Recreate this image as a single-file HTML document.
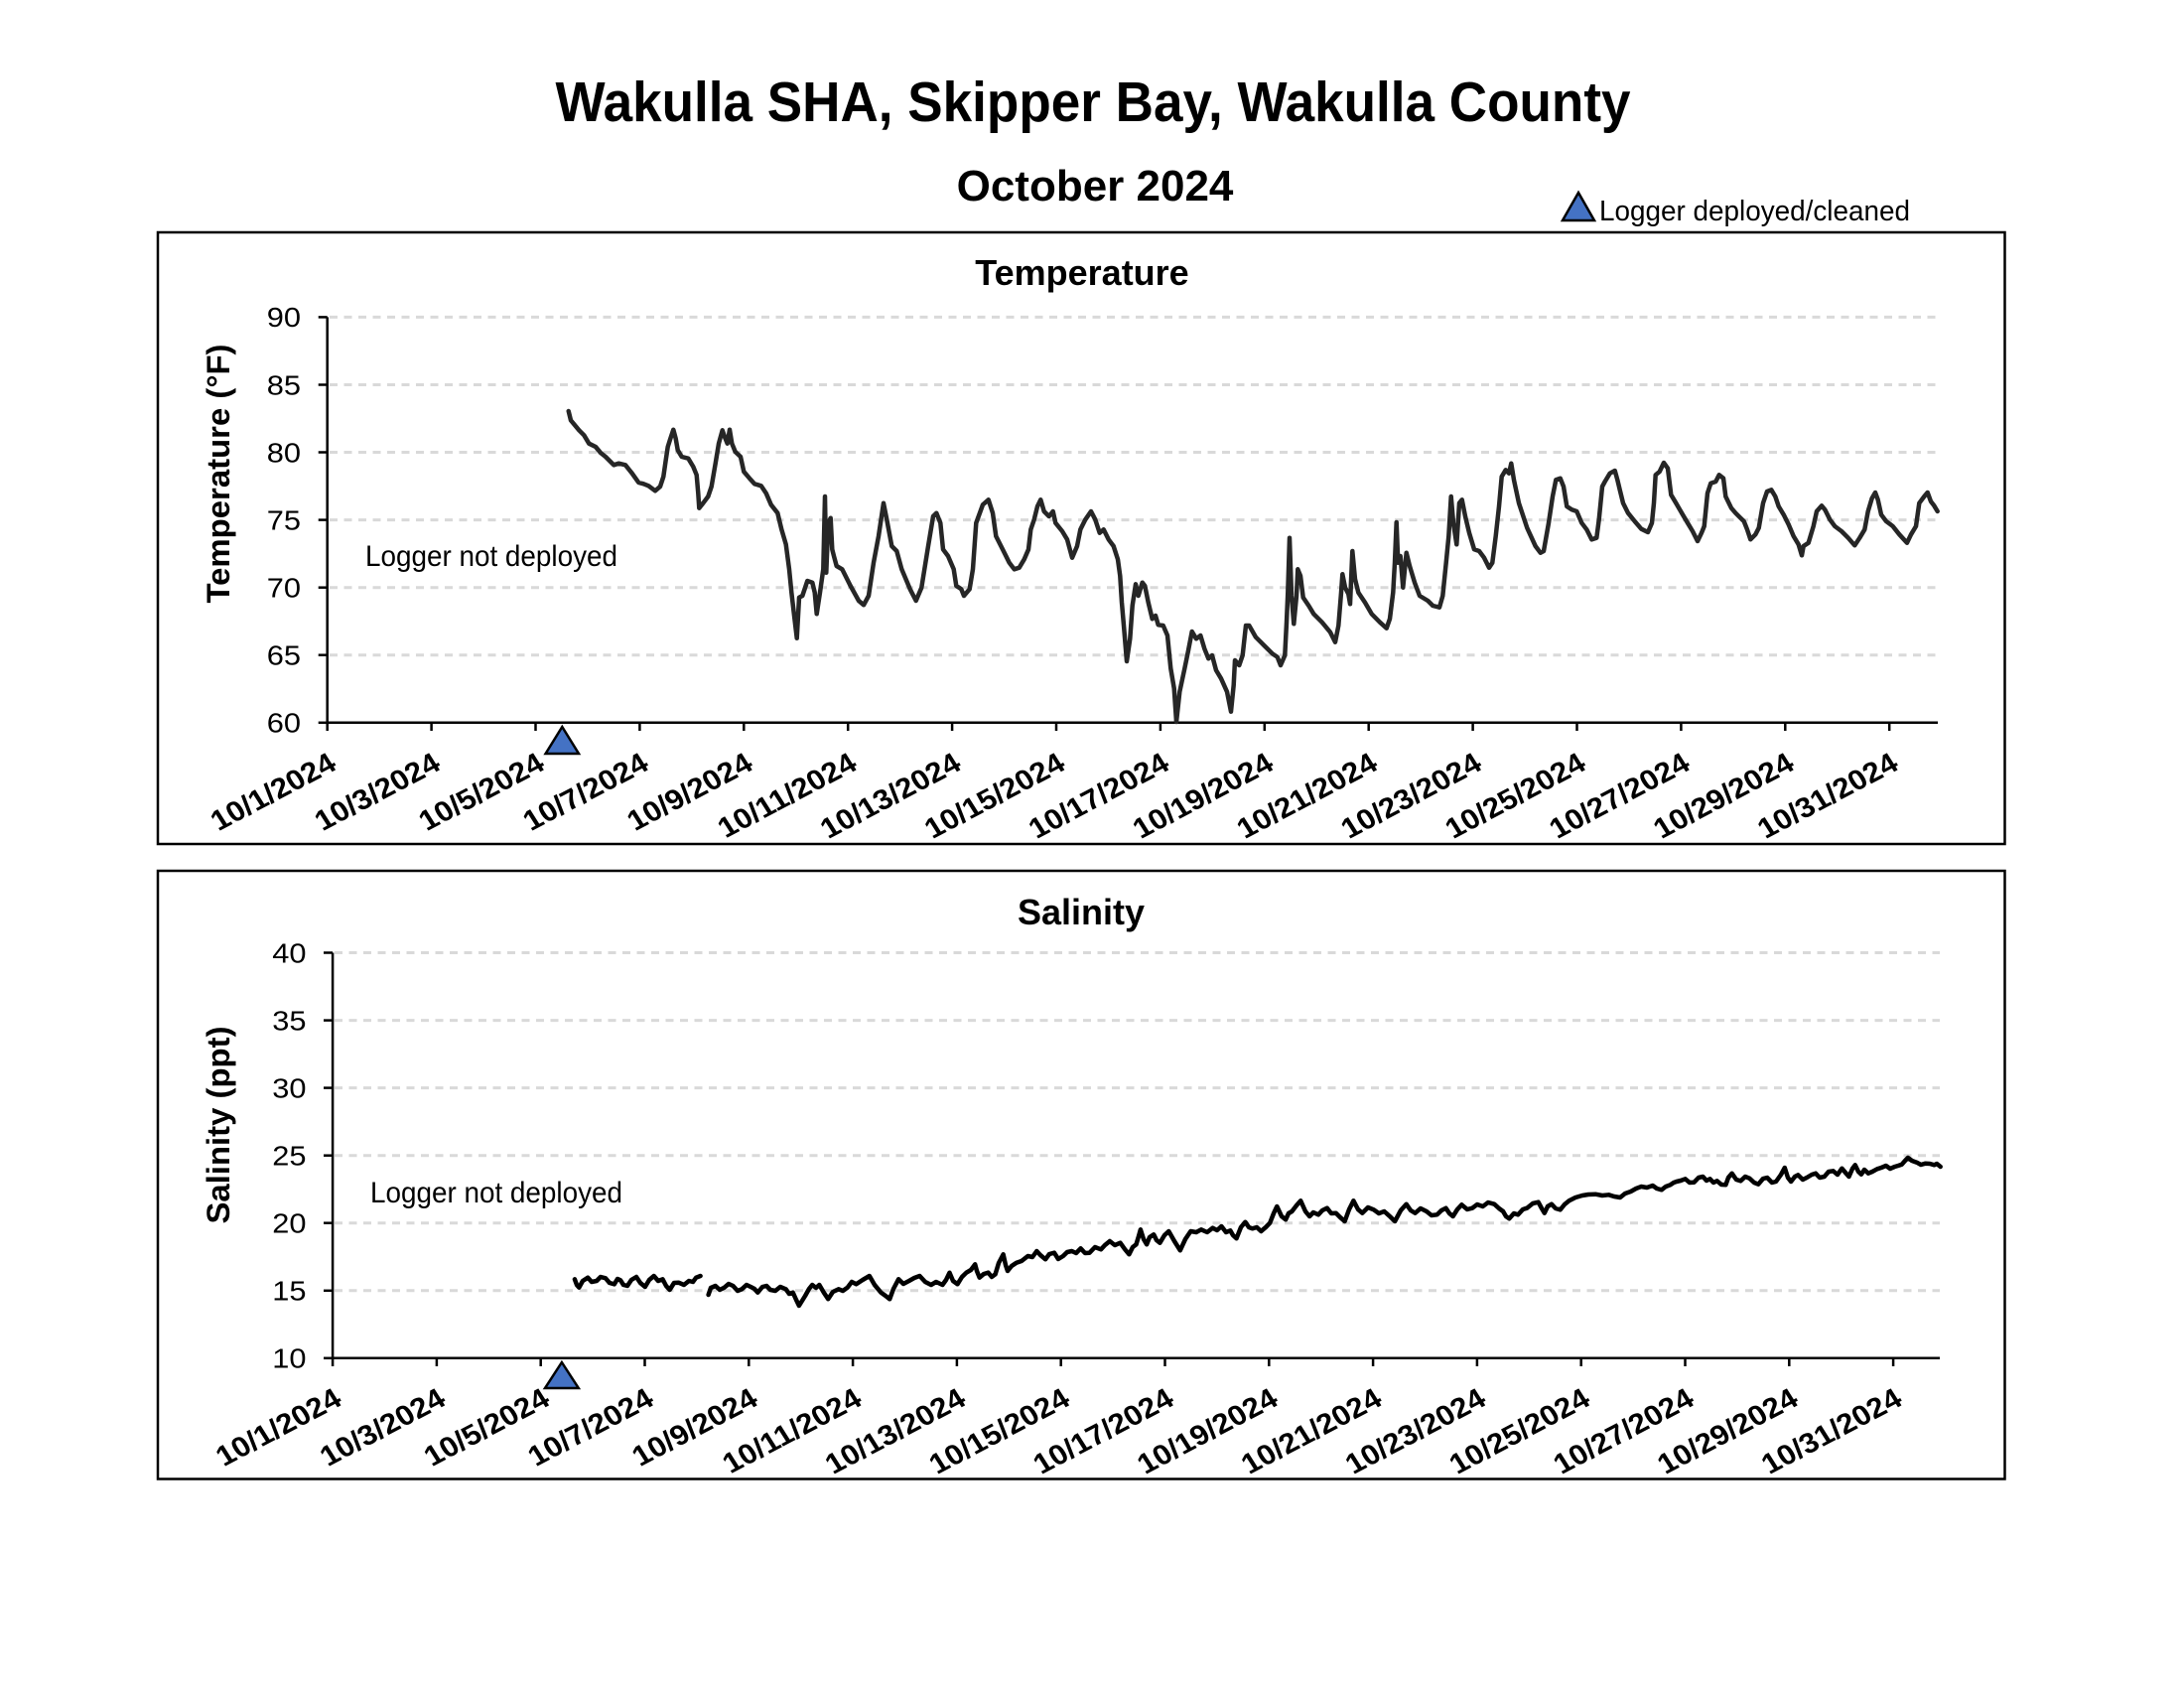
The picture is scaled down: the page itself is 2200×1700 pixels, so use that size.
<!DOCTYPE html>
<html><head><meta charset="utf-8"><style>
html,body{margin:0;padding:0;background:#fff;}
svg{display:block;}
text{font-family:"Liberation Sans",Arial,sans-serif;}
</style></head><body>
<svg width="2200" height="1700" viewBox="0 0 2200 1700" xmlns="http://www.w3.org/2000/svg">
<rect x="0" y="0" width="2200" height="1700" fill="#fff"/>
<!-- Titles -->
<text x="1101" y="122" font-size="57" font-weight="bold" text-anchor="middle" textLength="1083" lengthAdjust="spacingAndGlyphs">Wakulla SHA, Skipper Bay, Wakulla County</text>
<text x="1103" y="202" font-size="44" font-weight="bold" text-anchor="middle">October 2024</text>
<polygon points="1590,194 1606,222 1574,222" fill="#4472C4" stroke="#000" stroke-width="2.5" stroke-linejoin="miter"/>
<text x="1611" y="222" font-size="29" textLength="313" lengthAdjust="spacingAndGlyphs">Logger deployed/cleaned</text>

<!-- ================= TEMPERATURE PANEL ================= -->
<rect x="159" y="234" width="1860.5" height="616" fill="none" stroke="#000" stroke-width="2.5"/>
<text x="1090" y="287" font-size="36" font-weight="bold" text-anchor="middle">Temperature</text>
<text transform="translate(231,477) rotate(-90)" font-size="32" font-weight="bold" text-anchor="middle" textLength="261" lengthAdjust="spacingAndGlyphs">Temperature (°F)</text>
<g stroke="#d9d9d9" stroke-width="3" stroke-dasharray="8,6.5">
<line x1="332" y1="319.4" x2="1952" y2="319.4"/>
<line x1="332" y1="387.5" x2="1952" y2="387.5"/>
<line x1="332" y1="455.5" x2="1952" y2="455.5"/>
<line x1="332" y1="523.6" x2="1952" y2="523.6"/>
<line x1="332" y1="591.7" x2="1952" y2="591.7"/>
<line x1="332" y1="659.7" x2="1952" y2="659.7"/>
</g>
<g stroke="#000" stroke-width="2.5">
<line x1="329.7" y1="319.4" x2="329.7" y2="727.8"/>
<line x1="329.7" y1="727.8" x2="1952" y2="727.8"/>
<line x1="320.7" y1="319.4" x2="329.7" y2="319.4"/>
<line x1="320.7" y1="387.5" x2="329.7" y2="387.5"/>
<line x1="320.7" y1="455.5" x2="329.7" y2="455.5"/>
<line x1="320.7" y1="523.6" x2="329.7" y2="523.6"/>
<line x1="320.7" y1="591.7" x2="329.7" y2="591.7"/>
<line x1="320.7" y1="659.7" x2="329.7" y2="659.7"/>
<line x1="320.7" y1="727.8" x2="329.7" y2="727.8"/>
<line x1="329.7" y1="727.8" x2="329.7" y2="736"/>
<line x1="434.6" y1="727.8" x2="434.6" y2="736"/>
<line x1="539.5" y1="727.8" x2="539.5" y2="736"/>
<line x1="644.4" y1="727.8" x2="644.4" y2="736"/>
<line x1="749.3" y1="727.8" x2="749.3" y2="736"/>
<line x1="854.2" y1="727.8" x2="854.2" y2="736"/>
<line x1="959.1" y1="727.8" x2="959.1" y2="736"/>
<line x1="1064" y1="727.8" x2="1064" y2="736"/>
<line x1="1168.9" y1="727.8" x2="1168.9" y2="736"/>
<line x1="1273.8" y1="727.8" x2="1273.8" y2="736"/>
<line x1="1378.7" y1="727.8" x2="1378.7" y2="736"/>
<line x1="1483.6" y1="727.8" x2="1483.6" y2="736"/>
<line x1="1588.5" y1="727.8" x2="1588.5" y2="736"/>
<line x1="1693.4" y1="727.8" x2="1693.4" y2="736"/>
<line x1="1798.3" y1="727.8" x2="1798.3" y2="736"/>
<line x1="1903.2" y1="727.8" x2="1903.2" y2="736"/>
</g>
<g font-size="27.5" text-anchor="end">
<text transform="translate(303,329.2) scale(1.12,1)">90</text>
<text transform="translate(303,397.3) scale(1.12,1)">85</text>
<text transform="translate(303,465.3) scale(1.12,1)">80</text>
<text transform="translate(303,533.4) scale(1.12,1)">75</text>
<text transform="translate(303,601.5) scale(1.12,1)">70</text>
<text transform="translate(303,669.5) scale(1.12,1)">65</text>
<text transform="translate(303,737.6) scale(1.12,1)">60</text>
</g>
<g font-size="28.5" font-weight="bold" text-anchor="end">
<text transform="translate(340.7,774) scale(1.1,1) rotate(-30)">10/1/2024</text>
<text transform="translate(445.6,774) scale(1.1,1) rotate(-30)">10/3/2024</text>
<text transform="translate(550.5,774) scale(1.1,1) rotate(-30)">10/5/2024</text>
<text transform="translate(655.4,774) scale(1.1,1) rotate(-30)">10/7/2024</text>
<text transform="translate(760.3,774) scale(1.1,1) rotate(-30)">10/9/2024</text>
<text transform="translate(865.2,774) scale(1.1,1) rotate(-30)">10/11/2024</text>
<text transform="translate(970.1,774) scale(1.1,1) rotate(-30)">10/13/2024</text>
<text transform="translate(1075,774) scale(1.1,1) rotate(-30)">10/15/2024</text>
<text transform="translate(1179.9,774) scale(1.1,1) rotate(-30)">10/17/2024</text>
<text transform="translate(1284.8,774) scale(1.1,1) rotate(-30)">10/19/2024</text>
<text transform="translate(1389.7,774) scale(1.1,1) rotate(-30)">10/21/2024</text>
<text transform="translate(1494.6,774) scale(1.1,1) rotate(-30)">10/23/2024</text>
<text transform="translate(1599.5,774) scale(1.1,1) rotate(-30)">10/25/2024</text>
<text transform="translate(1704.4,774) scale(1.1,1) rotate(-30)">10/27/2024</text>
<text transform="translate(1809.3,774) scale(1.1,1) rotate(-30)">10/29/2024</text>
<text transform="translate(1914.2,774) scale(1.1,1) rotate(-30)">10/31/2024</text>
</g>
<text x="368" y="570" font-size="30" textLength="254" lengthAdjust="spacingAndGlyphs">Logger not deployed</text>
<polyline fill="none" stroke="#262626" stroke-width="4.5" stroke-linejoin="round" stroke-linecap="round" points="572.7,414 575,423.3 583.3,433.3 588.3,438.3 593.3,446.7 600,450 605,456 610,460 615,465 618.3,468.3 623.3,466.7 630,468.3 636.7,476.7 643.3,486 648.3,487.3 653.3,489.3 660,494.3 665,490 668.3,480 670.7,463.3 672.7,450 675,442.7 678.3,432.7 680.7,441.7 682.7,453.3 686.7,460 693.3,461.7 698.3,470 701.7,478.3 703.3,496.7 704.3,511.7 708.3,506.7 713.3,500 716.7,490 720.7,466.7 724,446.7 727.7,433.3 730,440 732.7,446.7 735,432.7 737.3,446.7 740.7,455 746,460 749.3,475 755,481.7 760,487.3 766.7,489.3 771.7,496.7 776.7,508.3 783.3,516.7 787.3,533.3 791.7,548.3 795,573.3 797.3,596.7 800,620 802.7,642.7 805,601.7 808.3,600 813.3,585 818.3,586.7 820.7,596.7 822.7,618.3 826,596.7 829.3,573.3 831,500 832.3,576.7 834.3,526.7 836.7,521.7 838.3,553.3 840,560 842.7,570 848.3,573.3 856.7,590 865,605 870,609.3 875,600 880,566.7 885,540 890,506.7 893.3,523.3 898.3,550 903.3,555 908.3,573.3 916.7,593.3 922.7,605 928.3,591.7 935,550 940,520 943.3,516.7 947.3,526.7 950,553.3 955,560 960.7,573.3 963.3,590 968.3,593.3 971,600 976.7,593.3 980,573.3 983.3,526.7 990,508.3 995.7,503.3 1000,516.7 1003.3,540 1010,553.3 1016.7,566.7 1021.7,573.3 1026.7,571.7 1031.7,563.3 1036,553.3 1038.3,533.3 1041.7,523.3 1045,510 1048.3,503.3 1051.7,515 1056.7,520 1060.7,515 1063.3,526.7 1070,535 1075,543.3 1080,561.7 1085,550 1088.3,533.3 1093.3,523.3 1099,515 1103.3,523.3 1107.7,536.7 1111.7,533.3 1116.7,543.3 1121.7,550 1126,563.3 1128.3,580 1130,606.7 1132.3,633.3 1135,666 1138.3,643.3 1140.7,610 1144,588.3 1146.7,600 1150.7,586.7 1153.3,590 1156.7,606.7 1160.7,623.3 1164,620 1166.7,629.3 1171.7,630 1176,640 1179.3,673.3 1182.7,693.3 1185,727 1188.3,696.7 1193.3,673.3 1196.7,656.7 1200.7,636 1205,643.3 1209.3,640 1213.3,653.3 1217.3,663.3 1221,660 1225,675 1230,683.3 1236,696.7 1240,716.7 1242.7,690 1244,665 1248.3,670 1251.7,660 1255,630 1258.3,630 1265,641.7 1273.3,650 1281.7,658.3 1286.7,661.7 1290,670 1294.3,660 1296,626.7 1297.3,596.7 1299,541.7 1301,600 1303.3,628.3 1306,600 1307.3,573.3 1310,580 1312.7,601.7 1318.3,610 1323.3,618.3 1331.7,626.7 1340,636.7 1345,646.7 1348.3,630 1351,596.7 1352.3,578.3 1355,591.7 1358.3,598.3 1360,608.3 1362.3,555 1365,583.3 1368.3,596.7 1375,606.7 1381.7,618.3 1390,626.7 1396.7,632.7 1400,623.3 1403.3,596.7 1405,566.7 1406.7,526 1408.3,566.7 1410.7,560 1413.3,591.7 1416.7,556.7 1420,570 1425,586.7 1430,600 1438.3,605 1443.3,610 1450,611.7 1453.3,600 1456.7,566.7 1459.3,540 1461.7,500 1464,526.7 1467.3,548.3 1470,506.7 1472.7,503.3 1476,520 1480,536.7 1485,553.3 1490,555 1495,561.7 1500,571.7 1503.3,566.7 1506.7,540 1510,510 1512.7,480 1516.7,473.3 1520,476.7 1522.3,466.7 1525,483.3 1530,506.7 1538.3,531.7 1546.7,550 1551.7,556.7 1555,555 1560,526.7 1564,500 1567.3,483.3 1571.7,481.7 1575,490 1578.3,510 1583.3,513.3 1588.3,515 1593.3,526.7 1598.3,533.3 1603.3,543.3 1608.3,541.7 1610.7,523.3 1614,490 1616.7,485 1621.7,476.7 1626.7,474 1629.3,483.3 1631.7,493.3 1635,506.7 1640,516.7 1646.7,525 1653.3,532.7 1660,536 1664,526.7 1666,506.7 1667.7,478.3 1671.7,475 1676,466 1680,471.7 1683.3,498.3 1688.3,506.7 1695,518.3 1700,526.7 1705,535 1710,545 1714,536.7 1716.7,530 1720,496.7 1723.3,486.7 1728.3,485 1731.7,478.3 1736,481.7 1738.3,500 1744,511.7 1748.3,516.7 1753.3,521.7 1756.7,525 1760,533.3 1763.3,543.3 1768.3,538.3 1771.7,531.7 1776,506.7 1780,495 1784.3,493.3 1788.3,500 1791.7,510 1796.7,518.3 1801.7,528.3 1806.7,540 1811.7,548.3 1815,559.3 1816.7,550 1821.7,546.7 1826.7,530 1830,515 1835,509.3 1838.3,513.3 1843.3,523.3 1848.3,530 1855,535 1861.7,541.7 1868.3,549.3 1873.3,541.7 1878.3,533.3 1881.7,515 1885.7,501.7 1889,496 1891.7,503.3 1895,518.3 1900,525 1906.7,530 1913.3,538.3 1921,546.7 1925,538.3 1930,530 1933.3,506.7 1938.3,500 1941.7,496 1945,505 1948.3,509.3 1951.7,515"/>
<polygon points="566.3,732 583,759 549.6,759" fill="#4472C4" stroke="#000" stroke-width="2.5"/>

<!-- ================= SALINITY PANEL ================= -->
<rect x="159" y="877" width="1860.5" height="612.5" fill="none" stroke="#000" stroke-width="2.5"/>
<text x="1089" y="931" font-size="36" font-weight="bold" text-anchor="middle">Salinity</text>
<text transform="translate(231,1133) rotate(-90)" font-size="32" font-weight="bold" text-anchor="middle" textLength="199" lengthAdjust="spacingAndGlyphs">Salinity (ppt)</text>
<g stroke="#d9d9d9" stroke-width="3" stroke-dasharray="8,6.5">
<line x1="337" y1="959.5" x2="1954" y2="959.5"/>
<line x1="337" y1="1027.6" x2="1954" y2="1027.6"/>
<line x1="337" y1="1095.6" x2="1954" y2="1095.6"/>
<line x1="337" y1="1163.7" x2="1954" y2="1163.7"/>
<line x1="337" y1="1231.7" x2="1954" y2="1231.7"/>
<line x1="337" y1="1299.8" x2="1954" y2="1299.8"/>
</g>
<g stroke="#000" stroke-width="2.5">
<line x1="335.1" y1="959.5" x2="335.1" y2="1367.8"/>
<line x1="335.1" y1="1367.8" x2="1954" y2="1367.8"/>
<line x1="326" y1="959.5" x2="335.1" y2="959.5"/>
<line x1="326" y1="1027.6" x2="335.1" y2="1027.6"/>
<line x1="326" y1="1095.6" x2="335.1" y2="1095.6"/>
<line x1="326" y1="1163.7" x2="335.1" y2="1163.7"/>
<line x1="326" y1="1231.7" x2="335.1" y2="1231.7"/>
<line x1="326" y1="1299.8" x2="335.1" y2="1299.8"/>
<line x1="326" y1="1367.8" x2="335.1" y2="1367.8"/>
<line x1="335.1" y1="1367.8" x2="335.1" y2="1376"/>
<line x1="439.9" y1="1367.8" x2="439.9" y2="1376"/>
<line x1="544.7" y1="1367.8" x2="544.7" y2="1376"/>
<line x1="649.5" y1="1367.8" x2="649.5" y2="1376"/>
<line x1="754.3" y1="1367.8" x2="754.3" y2="1376"/>
<line x1="859.1" y1="1367.8" x2="859.1" y2="1376"/>
<line x1="963.9" y1="1367.8" x2="963.9" y2="1376"/>
<line x1="1068.7" y1="1367.8" x2="1068.7" y2="1376"/>
<line x1="1173.5" y1="1367.8" x2="1173.5" y2="1376"/>
<line x1="1278.3" y1="1367.8" x2="1278.3" y2="1376"/>
<line x1="1383.1" y1="1367.8" x2="1383.1" y2="1376"/>
<line x1="1487.9" y1="1367.8" x2="1487.9" y2="1376"/>
<line x1="1592.7" y1="1367.8" x2="1592.7" y2="1376"/>
<line x1="1697.5" y1="1367.8" x2="1697.5" y2="1376"/>
<line x1="1802.3" y1="1367.8" x2="1802.3" y2="1376"/>
<line x1="1907.1" y1="1367.8" x2="1907.1" y2="1376"/>
</g>
<g font-size="27.5" text-anchor="end">
<text transform="translate(308.5,969.3) scale(1.12,1)">40</text>
<text transform="translate(308.5,1037.4) scale(1.12,1)">35</text>
<text transform="translate(308.5,1105.4) scale(1.12,1)">30</text>
<text transform="translate(308.5,1173.5) scale(1.12,1)">25</text>
<text transform="translate(308.5,1241.5) scale(1.12,1)">20</text>
<text transform="translate(308.5,1309.6) scale(1.12,1)">15</text>
<text transform="translate(308.5,1377.6) scale(1.12,1)">10</text>
</g>
<g font-size="28.5" font-weight="bold" text-anchor="end">
<text transform="translate(346.1,1414) scale(1.1,1) rotate(-30)">10/1/2024</text>
<text transform="translate(450.9,1414) scale(1.1,1) rotate(-30)">10/3/2024</text>
<text transform="translate(555.7,1414) scale(1.1,1) rotate(-30)">10/5/2024</text>
<text transform="translate(660.5,1414) scale(1.1,1) rotate(-30)">10/7/2024</text>
<text transform="translate(765.3,1414) scale(1.1,1) rotate(-30)">10/9/2024</text>
<text transform="translate(870.1,1414) scale(1.1,1) rotate(-30)">10/11/2024</text>
<text transform="translate(974.9,1414) scale(1.1,1) rotate(-30)">10/13/2024</text>
<text transform="translate(1079.7,1414) scale(1.1,1) rotate(-30)">10/15/2024</text>
<text transform="translate(1184.5,1414) scale(1.1,1) rotate(-30)">10/17/2024</text>
<text transform="translate(1289.3,1414) scale(1.1,1) rotate(-30)">10/19/2024</text>
<text transform="translate(1394.1,1414) scale(1.1,1) rotate(-30)">10/21/2024</text>
<text transform="translate(1498.9,1414) scale(1.1,1) rotate(-30)">10/23/2024</text>
<text transform="translate(1603.7,1414) scale(1.1,1) rotate(-30)">10/25/2024</text>
<text transform="translate(1708.5,1414) scale(1.1,1) rotate(-30)">10/27/2024</text>
<text transform="translate(1813.3,1414) scale(1.1,1) rotate(-30)">10/29/2024</text>
<text transform="translate(1918.1,1414) scale(1.1,1) rotate(-30)">10/31/2024</text>
</g>
<text x="373" y="1211" font-size="30" textLength="254" lengthAdjust="spacingAndGlyphs">Logger not deployed</text>
<polyline fill="none" stroke="#000" stroke-width="4.5" stroke-linejoin="round" stroke-linecap="round" points="578.9,1288.3 581,1294 583.3,1296.7 587,1290 592.2,1286.7 596,1291 601,1290 605,1286 610,1287.3 614,1292 618.8,1293.3 622,1288 625,1289.3 628,1294 632,1295 636,1289 641,1286 645,1292 649.8,1296 654,1289 658.7,1285 663,1290 667.5,1288.3 671,1295 674.6,1299 679,1292 683.5,1291.7 689,1294 694,1290 698,1291 701.2,1286.7 705.6,1285"/>
<polyline fill="none" stroke="#000" stroke-width="4.5" stroke-linejoin="round" stroke-linecap="round" points="713.6,1304 716,1297 720.7,1295 725,1299 729.6,1296.7 734,1293 738.4,1295 743,1300 747.3,1298.3 752,1294 756.2,1296 760,1298 763.3,1301.7 768,1296 772.1,1295 776,1299 781,1300 786,1296 791.6,1298.3 795,1303 798.7,1301.7 802,1309 804.9,1315 808,1310 811.1,1305 815,1298 818.2,1294 822,1297 825.3,1294 830,1302 834.2,1308.3 839,1301 844.8,1298.3 849,1300 853.7,1296.7 858,1291 862.5,1293.3 869,1289 875.8,1285 881,1294 887.4,1301.7 892,1305 896.2,1308.3 900,1298 905.1,1288.3 910,1293 915.7,1290 921,1287 926.4,1285 932,1291 937.9,1294 943,1291 949.4,1294 953,1289 956.5,1281.7 960,1290 964.5,1293.3 969,1286 973.4,1281.7 978,1279 982.2,1273.3 984,1280 986.7,1286.7 991,1283 995.5,1281.7 999,1286 1002.6,1283.3 1006,1272 1010.6,1263.3 1013,1274 1015,1280 1019,1275 1023.9,1271.7 1029,1270 1035.4,1265 1040,1266 1044.3,1260 1048,1264 1053.1,1268.3 1057,1263 1062,1261.7 1066,1268 1070.9,1265 1075,1261 1079.7,1260 1084,1262 1088.6,1257.3 1093,1262 1097.5,1261.7 1103,1256 1109,1258.3 1113,1254 1117.9,1250 1123,1254 1128.5,1251.7 1133,1258 1137.4,1263.3 1141,1256 1144.5,1253.3 1147,1245 1148.9,1238.3 1152,1248 1155.1,1253.3 1158,1246 1162.2,1243.3 1165,1249 1168.4,1251.7 1173,1244 1177.3,1240 1183,1250 1188.8,1259.3 1194,1248 1199.4,1240 1205,1241 1210,1238.3 1216,1241 1221.6,1236.7 1226,1239 1230.4,1235 1235,1241 1239.3,1239.3 1242,1244 1245.5,1247.3 1250,1236 1254.4,1230.7 1258,1236 1261.5,1237.3 1266,1236 1270.3,1240 1275,1236 1279.2,1231.7 1283,1222 1286.3,1215 1291,1225 1295.1,1228.3 1298,1222 1301.4,1220 1306,1214 1310.2,1209.3 1315,1220 1319.1,1225 1323,1221 1328,1223.3 1332,1219 1336.8,1216.7 1341,1222 1345.7,1221.7 1350,1226 1354.6,1230 1359,1218 1363.4,1209.3 1368,1218 1372.3,1221.7 1378,1216 1383.8,1218.3 1389,1222 1394.4,1220 1400,1225 1405.1,1230 1411,1219 1416.6,1212.7 1421,1219 1425.5,1221.7 1431,1217 1437,1220 1442,1224 1447.6,1223.3 1452,1219 1456.5,1216.7 1460,1222 1463.6,1225 1468,1218 1472.4,1213.3 1478,1218 1483.1,1216.7 1488,1213 1493.7,1215 1499,1211 1505.3,1212.7 1510,1217 1514.1,1220 1517,1225 1520.3,1227.3 1525,1222 1529.2,1223.3 1534,1218 1538.1,1216.7 1544,1212 1549.6,1210.7 1553,1217 1555.8,1221.7 1559,1215 1562.9,1212.7 1567,1217 1571.7,1218.3 1576,1213 1580.6,1209.3 1587,1206 1593.9,1204 1600,1203 1607.2,1202.7 1614,1204 1620.5,1203.3 1626,1205 1632,1206 1637,1202 1642.7,1200 1648,1197 1653.3,1195 1659,1196 1664.8,1194 1669,1197 1673.7,1198.3 1678,1195 1682.6,1193.3 1686,1191 1688.8,1190 1693,1189 1697.6,1187.3 1702,1191 1706.5,1190.7 1711,1186 1715.4,1185 1719,1189 1722.5,1187.3 1726,1191 1729.6,1189.3 1734,1193 1738.4,1193.3 1741,1186 1744.6,1181.7 1749,1188 1753.5,1189.3 1758,1185 1762.3,1186.7 1767,1191 1771.2,1192.7 1776,1187 1780.1,1186 1785,1191 1789,1190 1794,1183 1797.8,1176 1801,1186 1804.1,1190 1808,1185 1811.2,1183.3 1816,1188 1820,1186 1825,1183 1828.9,1181.7 1833,1186 1837.7,1185 1842,1180 1846.6,1179.3 1851,1183 1855.4,1176.7 1859,1181 1862.5,1185 1866,1177 1868.7,1173.3 1872,1180 1874.9,1182.7 1878,1178 1882,1181.7 1886,1180 1890.9,1177.3 1895,1176 1899.8,1174 1904,1177 1908.6,1175 1912,1174 1915.7,1172.7 1919,1169 1921.9,1166 1926,1169 1930.8,1170.7 1935,1173 1939.6,1171.7 1944,1172 1948.5,1173.3 1951,1172 1954.7,1175"/>
<polygon points="565.9,1372 582.8,1398 549,1398" fill="#4472C4" stroke="#000" stroke-width="2.5"/>
</svg>
</body></html>
